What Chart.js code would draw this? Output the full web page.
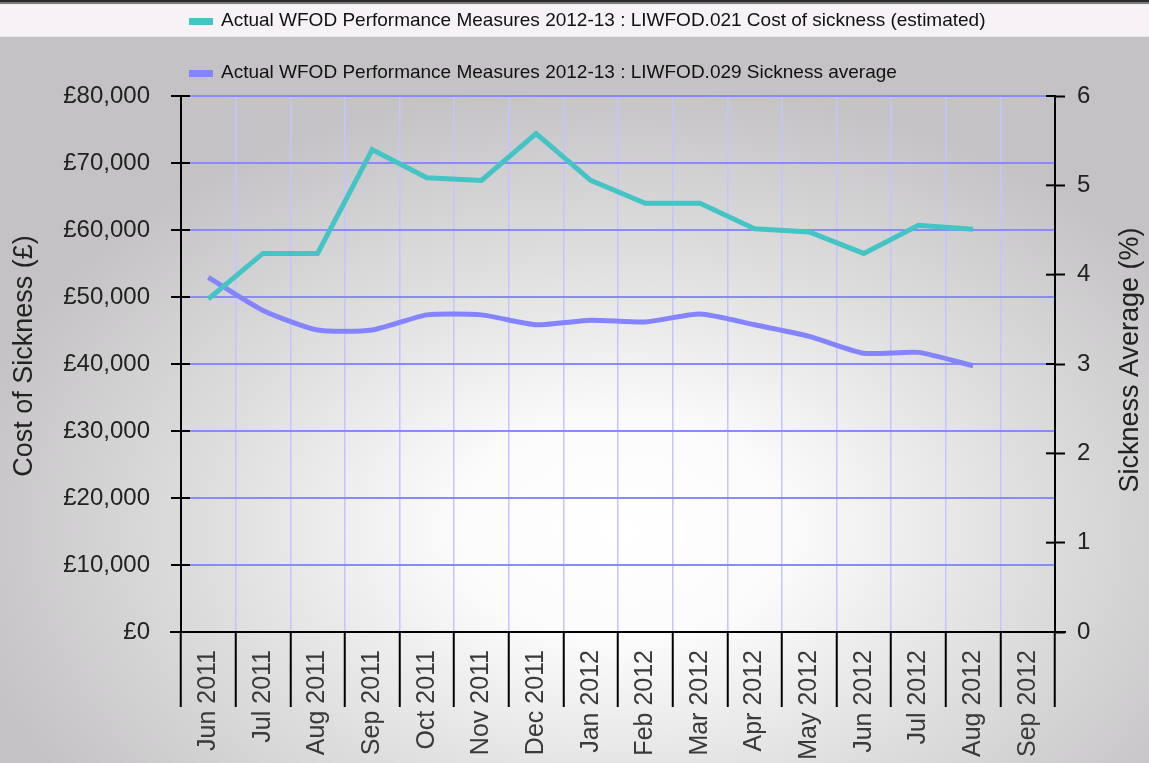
<!DOCTYPE html>
<html><head><meta charset="utf-8">
<script src="https://cdn.jsdelivr.net/npm/chart.js@4.4.1/dist/chart.umd.min.js"></script>
<style>html,body{margin:0;padding:0;background:#c4c2c4;overflow:hidden}#wrap{width:1149px;height:763px;position:relative}</style>
</head><body><div id="wrap"><canvas id="c" width="1149" height="763"></canvas></div>
<script>
const categories = ['Jun 2011','Jul 2011','Aug 2011','Sep 2011','Oct 2011','Nov 2011','Dec 2011','Jan 2012','Feb 2012','Mar 2012','Apr 2012','May 2012','Jun 2012','Jul 2012','Aug 2012','Sep 2012'];
const costLabel = 'Actual WFOD Performance Measures 2012-13 : LIWFOD.021 Cost of sickness (estimated)';
const costValues = [49700,56500,56500,72000,67800,67400,74400,67400,64000,64000,60200,59700,56500,60700,60100,null];
const avgLabel = 'Actual WFOD Performance Measures 2012-13 : LIWFOD.029 Sickness average';
const avgValues = [3.97,3.60,3.38,3.38,3.55,3.55,3.44,3.49,3.47,3.56,3.44,3.31,3.12,3.13,2.98,null];
const costAxis = {min:0, max:80000, step:10000, title:'Cost of Sickness (£)'};
const avgAxis = {min:0, max:6, step:1, title:'Sickness Average (%)'};
const seriesColors = ['#44c4c4','#8484ff'];
const FONT = '"Liberation Sans", Arial, sans-serif';

const bgPlugin = {
  id:'bg',
  beforeDraw(chart){
    const ctx = chart.ctx, w = chart.width, h = chart.height;
    ctx.save();
    ctx.fillStyle = '#c4c2c4'; ctx.fillRect(0,0,w,h);
    ctx.translate(620, 530); ctx.scale(1.5, 1);
    const g = ctx.createRadialGradient(0,0,0,0,0,450);
    g.addColorStop(0,'#ffffff'); g.addColorStop(0.25,'#fbfbfb');
    g.addColorStop(0.6,'#e0dfe0'); g.addColorStop(1,'#c4c2c4');
    ctx.fillStyle = g; ctx.fillRect(-800,-700,1600,1400);
    ctx.restore();
    ctx.save();
    ctx.fillStyle = '#f6f2f6'; ctx.fillRect(0,4,w,32);
    ctx.fillStyle = '#e8e4e8'; ctx.fillRect(0,36,w,1);
    ctx.fillStyle = '#2a2a2a'; ctx.fillRect(0,0,w,2);
    ctx.fillStyle = '#7a7a7a'; ctx.fillRect(0,2,w,2);
    ctx.restore();
  }
};
const legendPlugin = {
  id:'legendRows',
  afterDraw(chart){
    const ctx = chart.ctx; const rows = [21, 73];
    ctx.save();
    chart.data.datasets.forEach((ds,i)=>{
      ctx.fillStyle = ds.borderColor; ctx.fillRect(189, rows[i]-3, 24, 7);
      ctx.fillStyle = '#111'; ctx.font = '19px ' + FONT;
      ctx.textBaseline = 'middle'; ctx.textAlign = 'left';
      ctx.fillText(ds.label, 221, rows[i]);
    });
    ctx.restore();
  }
};
const titlePlugin = {
  id:'axisTitles',
  afterDraw(chart){
    const ctx = chart.ctx;
    ctx.save();
    ctx.fillStyle = '#222'; ctx.font = '27px ' + FONT;
    ctx.textAlign = 'center'; ctx.textBaseline = 'middle';
    [[25, 356, costAxis.title],[1131, 360, avgAxis.title]].forEach(([x,y,t])=>{
      ctx.save(); ctx.translate(x,y); ctx.rotate(-Math.PI/2); ctx.fillText(t,0,0); ctx.restore();
    });
    ctx.restore();
  }
};
const crossPlugin = {
  id:'cross',
  afterDraw(chart){
    const {ctx, chartArea:a, scales} = chart;
    ctx.save(); ctx.strokeStyle = '#000'; ctx.lineWidth = 2;
    const line=(x1,y1,x2,y2)=>{ctx.beginPath();ctx.moveTo(x1,y1);ctx.lineTo(x2,y2);ctx.stroke();};
    scales.y.ticks.forEach((t,i)=>{const yy=scales.y.getPixelForTick(i); line(a.left, yy, a.left+9, yy);});
    scales.y1.ticks.forEach((t,i)=>{const yy=scales.y1.getPixelForTick(i); line(a.right-9, yy, a.right, yy);});
    line(a.left-11, a.bottom, a.right+11, a.bottom);
    ctx.restore();
  }
};

new Chart(document.getElementById('c'), {
  type:'line',
  data:{
    labels: categories,
    datasets:[
      {label:costLabel, data:costValues, yAxisID:'y', borderColor:seriesColors[0], backgroundColor:seriesColors[0], borderWidth:5, pointRadius:0, tension:0},
      {label:avgLabel, data:avgValues, yAxisID:'y1', borderColor:seriesColors[1], backgroundColor:seriesColors[1], borderWidth:5, pointRadius:0, tension:0.2}
    ]
  },
  options:{
    responsive:false, devicePixelRatio:1, animation:false,
    layout:{padding:{top:96, left:0, right:0, bottom:0}},
    plugins:{legend:{display:false}, tooltip:{enabled:false}},
    scales:{
      x:{
        type:'category', offset:true,
        grid:{offset:true, color:'#c4c4ff', lineWidth:1.5, tickLength:75, tickColor:'#000', tickWidth:2},
        border:{color:'#000', width:2},
        ticks:{minRotation:90, maxRotation:90, autoSkip:false, padding:-57, color:'#3a3a3a', font:{family:FONT, size:25}},
        afterFit(s){ s.height = 131; }
      },
      y:{
        position:'left', min:costAxis.min, max:costAxis.max,
        ticks:{stepSize:costAxis.step, padding:21, color:'#222', font:{family:FONT, size:24},
          callback:v=>'£'+Number(v).toLocaleString('en-GB')},
        grid:{color:'#8a8aff', lineWidth:2, tickLength:10, tickColor:'#000', tickWidth:2},
        border:{color:'#000', width:2},
        title:{display:false},
        afterFit(s){ s.width = 181; }
      },
      y1:{
        position:'right', min:avgAxis.min, max:avgAxis.max,
        ticks:{stepSize:avgAxis.step, padding:12, color:'#222', font:{family:FONT, size:24}},
        grid:{drawOnChartArea:false, tickLength:10, tickColor:'#000', tickWidth:2},
        border:{color:'#000', width:2},
        title:{display:false},
        afterFit(s){ s.width = 94; }
      }
    }
  },
  plugins:[bgPlugin, legendPlugin, titlePlugin, crossPlugin]
});
</script></body></html>
